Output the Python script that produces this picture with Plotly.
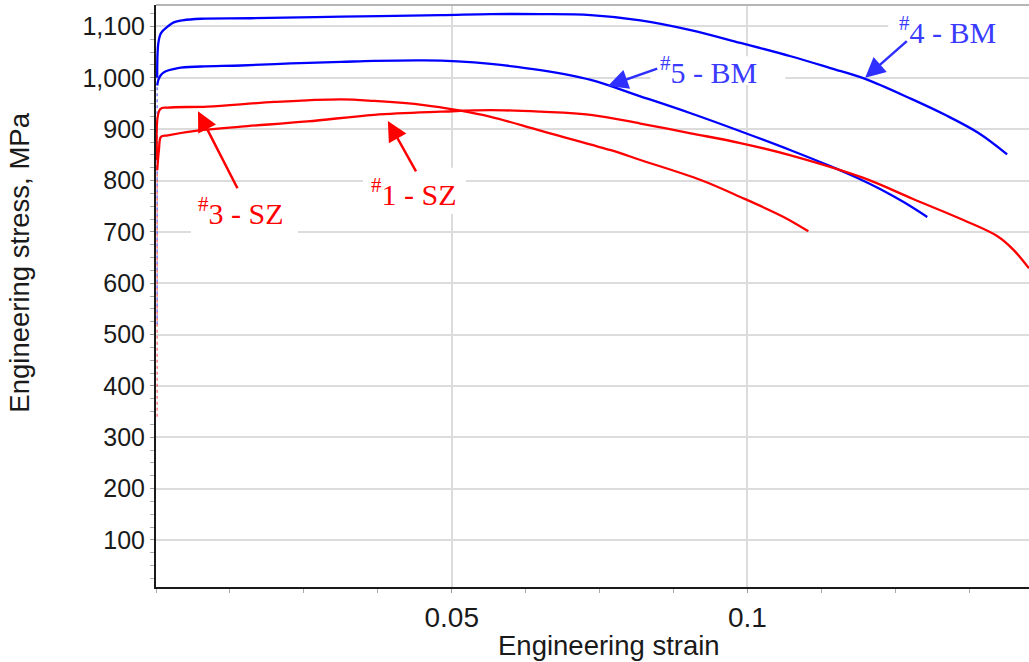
import plotly.graph_objects as go

# Tensile test curves: engineering strain (-) vs engineering stress (MPa)
strain_4bm = [0.0002, 0.0004, 0.00084, 0.0020, 0.0030, 0.0045, 0.0076, 0.0160, 0.0313,
              0.0481, 0.0566, 0.0650, 0.0735, 0.0819, 0.0904, 0.0988, 0.1073, 0.1140,
              0.1199, 0.1277, 0.1334, 0.1390, 0.1439]
stress_4bm = [1000, 1068, 1087, 1100, 1108, 1112, 1115, 1116, 1119,
              1122, 1124, 1124, 1122, 1112, 1093, 1068, 1042, 1019,
              998, 959, 928, 893, 851]

strain_5bm = [0.0002, 0.0004, 0.0008, 0.00135, 0.0037, 0.0076, 0.0144, 0.0228, 0.0313,
              0.0368, 0.0453, 0.0510, 0.0566, 0.0650, 0.0735, 0.0819, 0.0904, 0.0988,
              0.1073, 0.1140, 0.1186, 0.1225, 0.1264, 0.1304]
stress_5bm = [985, 996, 1005, 1011, 1019, 1022, 1024, 1028, 1031,
              1033, 1034, 1032, 1027, 1015, 996, 964, 931, 896,
              859, 828, 805, 783, 758, 729]

strain_3sz = [0.0002, 0.0007, 0.0020, 0.0087, 0.0200, 0.0313, 0.0369, 0.0453, 0.0510,
              0.0566, 0.0650, 0.0769, 0.0819, 0.0921, 0.0988, 0.1061, 0.1103]
stress_3sz = [840, 939, 942, 944, 953, 958, 955, 947, 937,
              924, 897, 859, 840, 801, 768, 729, 701]

strain_1sz = [0.0002, 0.0005, 0.00084, 0.0020, 0.0076, 0.0144, 0.0256, 0.0369, 0.0481,
              0.0566, 0.0650, 0.0735, 0.0819, 0.0904, 0.0988, 0.1073, 0.1196, 0.1280,
              0.1365, 0.1422, 0.1449, 0.1476]
stress_1sz = [820, 860, 885, 888, 898, 905, 915, 928, 934,
              937, 934, 928, 911, 892, 873, 849, 805, 764,
              723, 692, 666, 629]

# Sparse elastic-loading readings near zero strain
elastic_strain = [0.0002, 0.0002]
elastic_bm = [520, 985]
elastic_sz = [340, 820]

x_ticks = [0.05, 0.1]
x_tick_labels = ["0.05", "0.1"]
y_ticks = [100, 200, 300, 400, 500, 600, 700, 800, 900, 1000, 1100]

BLUE = "#0000ff"
RED = "#ff0000"
BLUE_TEXT = "#3b3bff"

# Curve labels: text, text position, arrow tip, arrow tail, colours, white backing box
labels = [
    ("<sup>#</sup>3 - SZ", (0.0144, 740), (0.0071, 935), (0.0139, 782), RED, RED,
     (0.0059, 0.0240, 694, 791)),
    ("<sup>#</sup>1 - SZ", (0.0436, 778), (0.0392, 916), (0.0441, 815), RED, RED,
     (0.0350, 0.0524, 735, 825)),
    ("<sup>#</sup>5 - BM", (0.0934, 1015), (0.0764, 984), (0.0850, 1019), BLUE_TEXT, "#2f2fff",
     (0.0836, 0.1064, 986, 1042)),
    ("<sup>#</sup>4 - BM", (0.1338, 1093), (0.1199, 1000), (0.1272, 1074), BLUE_TEXT, "#2f2fff",
     (0.1238, 0.1476, 1062, 1128)),
]

fig = go.Figure()
for ys, col in [(elastic_bm, BLUE), (elastic_sz, RED)]:
    fig.add_trace(go.Scatter(x=elastic_strain, y=ys, mode="lines",
                             line=dict(color=col, width=1.6, dash="dot"), opacity=0.45,
                             showlegend=False, hoverinfo="skip"))

for xs, ys, col in [(strain_4bm, stress_4bm, BLUE), (strain_5bm, stress_5bm, BLUE),
                    (strain_3sz, stress_3sz, RED), (strain_1sz, stress_1sz, RED)]:
    fig.add_trace(go.Scatter(x=xs, y=ys, mode="lines",
                             line=dict(color=col, width=2.3, shape="spline", smoothing=1.0),
                             showlegend=False, hoverinfo="skip"))

annotations = []
shapes = [dict(type="line", xref="paper", yref="paper", x0=0, x1=1, y0=1, y1=1,
               line=dict(color="#b5b5b5", width=2))]
for text, (tx, ty), (hx, hy), (sx, sy), tcol, acol, (bx0, bx1, by0, by1) in labels:
    shapes.append(dict(type="rect", xref="x", yref="y", x0=bx0, x1=bx1, y0=by0, y1=by1,
                       fillcolor="white", line=dict(width=0), layer="between"))
    annotations.append(dict(x=hx, y=hy, ax=sx, ay=sy, xref="x", yref="y",
                            axref="x", ayref="y", text="", showarrow=True,
                            arrowhead=2, arrowsize=1.6, arrowwidth=2.5,
                            arrowcolor=acol, standoff=0))
    annotations.append(dict(x=tx, y=ty, xref="x", yref="y", text=text, showarrow=False,
                            font=dict(family="Liberation Serif", size=30, color=tcol),
                            xanchor="center", yanchor="middle"))

# Axis titles
annotations.append(dict(x=0.519, y=-0.1, xref="paper", yref="paper",
                        text="Engineering strain", showarrow=False,
                        font=dict(family="Liberation Sans", size=27.5, color="#1a1a1a"),
                        xanchor="center", yanchor="middle"))
annotations.append(dict(x=-0.156, y=0.557, xref="paper", yref="paper",
                        text="Engineering stress, MPa", showarrow=False, textangle=-90,
                        font=dict(family="Liberation Sans", size=27.5, color="#1a1a1a"),
                        xanchor="center", yanchor="middle"))

fig.update_layout(
    width=1029, height=662,
    margin=dict(l=156, r=0, t=5, b=75),
    paper_bgcolor="white", plot_bgcolor="white",
    annotations=annotations,
    shapes=shapes,
)

fig.update_xaxes(
    range=[0, 0.1476], tickvals=x_ticks, ticktext=x_tick_labels,
    showgrid=True, gridcolor="#dcdcdc", gridwidth=1.5,
    showline=True, linecolor="#1a1a1a", linewidth=2,
    ticks="outside", ticklen=4, tickcolor="#999999",
    minor=dict(dtick=0.0125, tick0=0, ticks="outside", ticklen=4, tickcolor="#aaaaaa", showgrid=False),
    tickfont=dict(family="Liberation Sans", size=28, color="#1a1a1a"),
    zeroline=False,
)
fig.update_yaxes(
    range=[8.4, 1141.8], tickvals=y_ticks, tickformat=",d",
    showgrid=True, gridcolor="#dcdcdc", gridwidth=2,
    showline=True, linecolor="#1a1a1a", linewidth=2,
    ticks="outside", ticklen=4, tickcolor="#999999",
    minor=dict(dtick=25, tick0=0, ticks="outside", ticklen=4, tickcolor="#aaaaaa", showgrid=False),
    tickfont=dict(family="Liberation Sans", size=25, color="#1a1a1a"),
    zeroline=False,
)

fig.write_html("out.html")
